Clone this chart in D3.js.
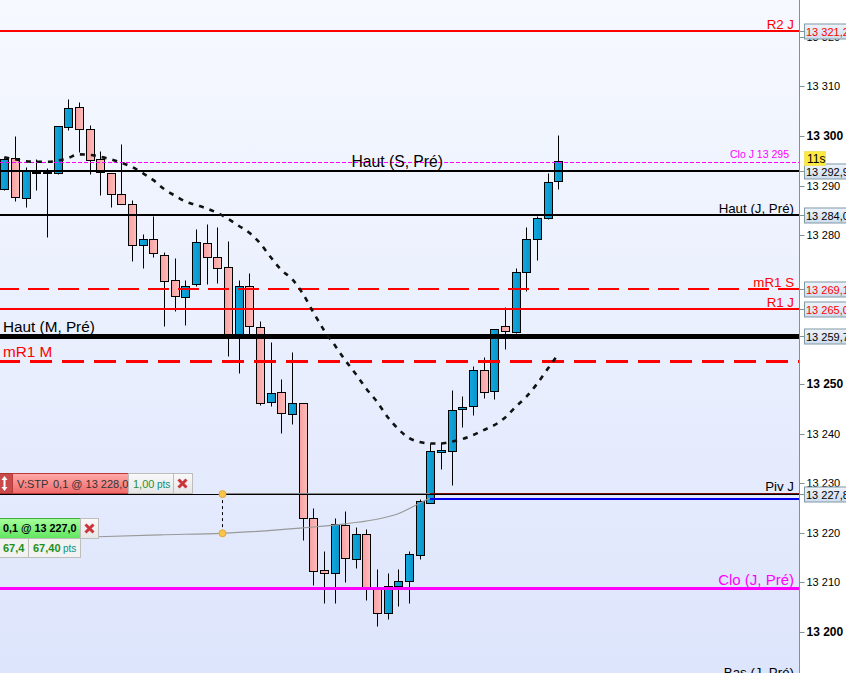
<!DOCTYPE html>
<html><head><meta charset="utf-8">
<script src="https://d3js.org/d3.v7.min.js"></script>
<style>html,body{margin:0;padding:0;background:#fff;overflow:hidden}svg{display:block;font-family:"Liberation Sans",Arial,sans-serif}</style>
</head><body><svg id="c" width="846" height="673"></svg>
<script>
const opens=[13289.3,13295.5,13287.6,13292.8,13292.8,13292.5,13301.8,13305.8,13301.4,13295.3,13292.5,13288.4,13286.2,13278,13279.2,13276.1,13270.9,13267.5,13270.1,13278.4,13275.7,13273.5,13259.7,13269.7,13261.4,13246.3,13248.3,13243.9,13246.1,13222.9,13212.4,13211.8,13221.5,13214.7,13219.7,13208.9,13203.8,13209.2,13210.2,13215.5,13226,13236.2,13236.4,13244.9,13245.5,13252.8,13248.5,13261.6,13260.4,13272.5,13279.2,13283.4,13290.9];
const highs=[13295.8,13300,13293.7,13295.3,13293.5,13302,13307.5,13306.8,13302.2,13297,13292.5,13298.4,13287,13280.2,13283.9,13276.6,13275.4,13270.9,13281.2,13282.3,13281.7,13278.8,13270.9,13272.4,13262.8,13258.5,13251,13256.5,13246.1,13225.1,13216.3,13223,13224.4,13221.2,13220.8,13212.8,13211.8,13212.8,13216.3,13226.8,13238.2,13238.4,13248.8,13247.6,13253.6,13255.4,13261,13265.5,13273.3,13281.6,13283.8,13292.5,13300.2];
const lows=[13289.1,13286.8,13285.7,13289.1,13279.7,13292.3,13301.2,13296.7,13292.4,13288.2,13285.7,13286.2,13274.7,13273.4,13275.7,13261.6,13264.8,13261.8,13269.8,13270.2,13270.4,13255.7,13252.3,13259.5,13245.8,13245.6,13240.2,13241.9,13218.5,13209.5,13205.9,13205.9,13210.1,13213,13206.5,13201.3,13202.6,13205.3,13205.9,13214.8,13226,13232.9,13229.7,13241.4,13243.8,13247.2,13247,13257.1,13260.2,13268.8,13275.1,13283.2,13289.4];
const closes=[13295.3,13287.8,13292.9,13292.7,13292.6,13302,13305.6,13301.4,13295.1,13292.7,13288.4,13286.2,13278,13279.2,13276.4,13270.7,13267.7,13269.8,13278.6,13275.7,13273.3,13259.7,13269.7,13261.6,13246.2,13248.1,13244.1,13246.1,13222.9,13212.2,13211.8,13221.7,13214.9,13219.7,13208.9,13203.8,13209.2,13210.2,13215.7,13226.4,13236.4,13236.6,13244.7,13245.3,13252.8,13248.3,13261,13260.6,13272.5,13279.2,13283.4,13290.7,13294.9];
const maValues=[13295.7,13295.3,13294.9,13294.8,13294.8,13295,13295.6,13296.3,13296.2,13295.8,13295.3,13294.6,13293.75,13292.5,13291.1,13289.3,13288,13286.8,13286.1,13285.4,13284.5,13283.3,13281.9,13280.5,13278.4,13275.6,13273,13271.2,13268.3,13264.5,13260.9,13257.9,13254.8,13252,13249,13246.4,13243.3,13240.9,13239.1,13238.3,13238,13238,13238.4,13238.9,13239.7,13240.7,13241.7,13243.2,13245.4,13247.4,13250,13253,13256];
const tickValues=[13320,13310,13300,13290,13280,13250,13240,13230,13220,13210,13200];
const boldTicks=[13300,13250,13200];
const levelNames=["R2 J","Haut (J, Pré)","mR1 S","R1 J","Piv J","Clo (J, Pré)"];
const levelValues=[13321.2,13284,13269.1,13265.1,13227.8,13208.8];
const levelColors=["#ff0000","#000000","#ff0000","#ff0000","#000000","#ff00ff"];
const levelWidths=[2,2,2,2,1,3];
const levelDash=[null,null,"21 9",null,null,null];
const priceBoxValues=[13321.2,13292.9,13284,13269.1,13265.1,13259.7,13227.8];
const priceBoxLabels=["13 321,2","13 292,9","13 284,0","13 269,1","13 265,0","13 259,7","13 227,8"];
const priceBoxColors=["#ff0000","#000","#000","#ff0000","#ff0000","#000","#000"];
const orderX=[98,160,222,303,345,400,420,430];
const orderV=[13219.2,13219.6,13219.9,13221,13221.8,13224,13226,13227];

const W=846,H=673,axisX=799;
const svg=d3.select("#c");
const defs=svg.append("defs");
function grad(id,stops,x2,y2){const g=defs.append("linearGradient").attr("id",id).attr("x1",0).attr("y1",0).attr("x2",x2).attr("y2",y2);
 stops.forEach((s,i)=>g.append("stop").attr("offset",i/(stops.length-1)).attr("stop-color",s));}
grad("bg",["#f6f9ff","#dde5fc"],0,1);
grad("up",["#0fa9e0","#0a93c8"],1,0);
grad("down",["#f7a0a0","#ffbcbc"],1,0);
grad("box",["#eef3fb","#cfdcee"],0,1);
grad("redbox",["#ffa9a9","#f06a6a"],0,1);
grad("greenbox",["#a6ff9c","#5fe45f"],0,1);
grad("greybox",["#f9f9f9","#e6e6e6"],0,1);

const x=d3.scaleLinear().domain([0,52]).range([4.3,558.2]);
const y=d3.scaleLinear().domain([13300,13200]).range([136,632]);
const yRound=y.copy().interpolate(d3.interpolateRound);
const px=i=>Math.round(x(i))+.5;
const py=v=>Math.round(y(v))+.5;
const crisp=(v,w)=>w%2==0?Math.round(y(v)):py(v);

svg.append("rect").attr("width",axisX).attr("height",H).attr("fill","url(#bg)");
svg.append("rect").attr("x",axisX).attr("width",W-axisX).attr("height",H).attr("fill","#fff");

// candles
const n=d3.range(opens.length);
const cg=svg.append("g");
cg.selectAll("line.w").data(n).join("line").attr("class","w")
 .attr("x1",px).attr("x2",px).attr("y1",i=>py(highs[i])).attr("y2",i=>py(lows[i]))
 .attr("stroke","#000").attr("stroke-width",1);
cg.selectAll("rect").data(n).join("rect")
 .attr("x",i=>px(i)-4).attr("width",8)
 .attr("y",i=>py(Math.max(opens[i],closes[i])))
 .attr("height",i=>Math.max(1,py(Math.min(opens[i],closes[i]))-py(Math.max(opens[i],closes[i]))))
 .attr("fill",i=>closes[i]>=opens[i]?"url(#up)":"url(#down)")
 .attr("stroke","#000").attr("stroke-width",1);

// levels
levelValues.forEach((v,i)=>{
 const yy=crisp(v,levelWidths[i]);
 svg.append("line").attr("x1",0).attr("x2",axisX).attr("y1",yy).attr("y2",yy)
  .attr("stroke",levelColors[i]).attr("stroke-width",levelWidths[i])
  .attr("stroke-dasharray",levelDash[i]).attr("stroke-dashoffset",levelDash[i]?2:null);
});
const hline=(v,c,w,dash,off,x1)=>{const yy=crisp(v,w);svg.append("line").attr("x1",x1||0).attr("x2",axisX).attr("y1",yy).attr("y2",yy)
  .attr("stroke",c).attr("stroke-width",w).attr("stroke-dasharray",dash).attr("stroke-dashoffset",off);};
hline(13294.7,"#ff00ff",1,"4 2");
hline(13292.9,"#000",2);
hline(13259.7,"#000",5);
hline(13254.6,"#ff0000",3,"22 10",2);
hline(13226.8,"#0000ee",2,null,null,430);
svg.append("line").attr("x1",222).attr("x2",430).attr("y1",py(13227.8)-1).attr("y2",py(13227.8)-1).attr("stroke","#888").attr("stroke-width",1);
svg.append("line").attr("x1",430).attr("x2",axisX).attr("y1",py(13227.8)-1).attr("y2",py(13227.8)-1).attr("stroke","#7a1010").attr("stroke-width",1);

// thin connector curve (order line)
svg.append("path").datum(orderX.map((d,i)=>[d,y(orderV[i])]))
 .attr("d",d3.line().curve(d3.curveMonotoneX)).attr("fill","none").attr("stroke","#999").attr("stroke-width",1.2);

// moving average
svg.append("path").datum(n.map(i=>[x(i),y(maValues[i])]))
 .attr("d",d3.line().curve(d3.curveMonotoneX)).attr("fill","none")
 .attr("stroke","#111").attr("stroke-width",2.6).attr("stroke-dasharray","5 6");

// level labels
const label=(t,xx,yy,c,s,anchor)=>svg.append("text").attr("x",xx).attr("y",yy).attr("fill",c).attr("font-size",s).attr("text-anchor",anchor||"end").text(t);
levelNames.forEach((t,i)=>label(t,794,py(levelValues[i])-(i==5?4:3)-(i==4?1:0),levelColors[i]=="#000000"?"#000":levelColors[i],i==5?15:13.3));
label("Haut (S, Pré)",443,y(13292.9)-4,"#000",15.7);
label("Haut (M, Pré)",3,y(13259.7)-4,"#000",15.3,"start");
label("mR1 M",3,y(13254.6)-4,"#ff0000",15.3,"start");
label("Bas (J, Pré)",794,677,"#000",13.3);
label("Clo J 13 295",789,y(13294.7)-4,"#ff00ff",10.5);

// axis
const axis=d3.axisRight(yRound).offset(0).tickValues(tickValues).tickSize(5).tickPadding(2)
 .tickFormat(d=>d3.format("d")(d).replace(/^(\d\d)/,"$1 "));
const ag=svg.append("g").attr("transform",`translate(${axisX+.5},0.5)`).call(axis);
ag.select(".domain").attr("d",`M0,-1V${H}`).attr("stroke","#7f9294").attr("stroke-width",1);
ag.selectAll(".tick line").attr("stroke","#7f9294");
ag.selectAll(".tick text").attr("font-family","Liberation Sans").attr("fill","#000")
 .attr("font-weight",d=>boldTicks.includes(d)?"bold":"normal").attr("font-size",d=>boldTicks.includes(d)?12:11);

// price boxes
priceBoxValues.forEach((v,i)=>{
 const c=py(v);
 const g=svg.append("g");
 g.append("line").attr("x1",axisX).attr("x2",804).attr("y1",c).attr("y2",c).attr("stroke","#7f9294");
 g.append("rect").attr("x",804.5).attr("y",c-7.5).attr("width",60).attr("height",15).attr("fill","url(#box)").attr("stroke","#7f9aa5");
 g.append("text").attr("x",806).attr("y",c+4).attr("font-size",11).attr("fill",priceBoxColors[i]).text(priceBoxLabels[i]);
});
svg.append("rect").attr("x",804.5).attr("y",151.5).attr("width",21).attr("height",14).attr("fill","#fde93f").attr("stroke","#f2e36a");
svg.append("text").attr("x",807).attr("y",163).attr("font-size",12).attr("fill","#000").text("11s");

// order widgets
const box=(xx,yy,w,h,f,s)=>svg.append("rect").attr("x",xx+.5).attr("y",yy+.5).attr("width",w).attr("height",h).attr("fill",f).attr("stroke",s);
box(-3,473,15,20,"#c94a4a","#b03030");
box(12,473,116,20,"url(#redbox)","#b83a3a");
box(128,473,45,20,"url(#greybox)","#bdbdbd");
box(173,473,19,20,"url(#greybox)","#bdbdbd");
svg.append("path").attr("d","M4.5,476l-3,4h2v7h-2l3,4l3,-4h-2v-7h2z").attr("fill","#fff");
svg.append("text").attr("x",17).attr("y",488).attr("font-size",11).attr("fill","#333").text("V:STP");
svg.append("text").attr("x",53).attr("y",488).attr("font-size",11).attr("fill","#333").text("0,1 @ 13 228,0");
svg.append("text").attr("x",133).attr("y",488).attr("font-size",11).attr("fill","#2f8f2f").text("1,00");
svg.append("text").attr("x",157).attr("y",488).attr("font-size",10).attr("fill","#0a8f7f").text("pts");
const xMark=(cx,cy)=>svg.append("path").attr("d",`M${cx-4},${cy-4}L${cx+4},${cy+4}M${cx+4},${cy-4}L${cx-4},${cy+4}`).attr("stroke","#c9353a").attr("stroke-width",3);
xMark(182.5,483.5);
box(-3,518,83,20,"url(#greenbox)","#3fae3f");
box(80,518,18,20,"url(#greybox)","#bdbdbd");
box(-3,538,31,19,"#f2f2f2","#bdbdbd");
box(28,538,52,19,"#f2f2f2","#bdbdbd");
xMark(89.5,528.5);
svg.append("text").attr("x",3).attr("y",532).attr("font-size",10.8).attr("font-weight","bold").attr("fill","#000").text("0,1 @ 13 227,0");
svg.append("text").attr("x",3).attr("y",552).attr("font-size",11).attr("font-weight","bold").attr("fill","#1d8f1d").text("67,4");
svg.append("text").attr("x",33).attr("y",552).attr("font-size",11).attr("font-weight","bold").attr("fill","#1d8f1d").text("67,40");
svg.append("text").attr("x",63).attr("y",552).attr("font-size",10).attr("fill","#0a8f7f").text("pts");

// handles
svg.append("line").attr("x1",222.5).attr("x2",222.5).attr("y1",y(13227.8)).attr("y2",y(13219.9)).attr("stroke","#000").attr("stroke-dasharray","3 3");
[13227.8,13219.9].forEach(v=>svg.append("circle").attr("cx",222.5).attr("cy",y(v)).attr("r",3.5).attr("fill","#fbc54a").attr("stroke","#e0a93a"));
</script></body></html>
